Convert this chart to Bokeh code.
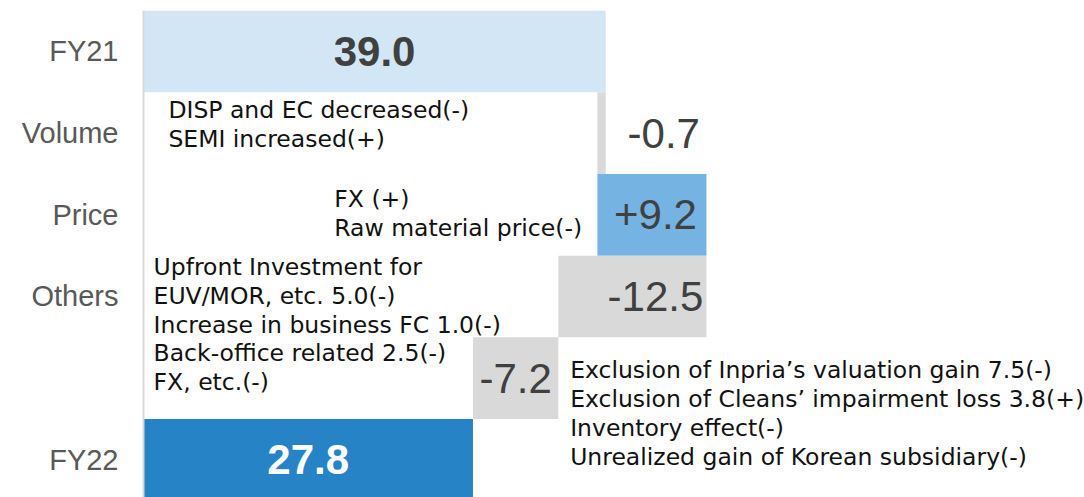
from bokeh.plotting import figure
from bokeh.models import Range1d, FixedTicker, ColumnDataSource
from bokeh.core.properties import value
from bokeh.embed import file_html
from bokeh.resources import INLINE

# ---- data ----
categories = ["FY21", "Volume", "Price", "Others", "", "FY22"]
values = [39.0, -0.7, 9.2, -12.5, -7.2, 27.8]
value_labels = ["39.0", "-0.7", "+9.2", "-12.5", "-7.2", "27.8"]
is_total = [True, False, False, False, False, True]

notes_volume = ["DISP and EC decreased(-)", "SEMI increased(+)"]
notes_price = ["FX (+)", "Raw material price(-)"]
notes_others = ["Upfront Investment for", "EUV/MOR, etc. 5.0(-)",
                "Increase in business FC 1.0(-)", "Back-office related 2.5(-)",
                "FX, etc.(-)"]
notes_extra = ["Exclusion of Inpria\u2019s valuation gain 7.5(-)",
               "Exclusion of Cleans\u2019 impairment loss 3.8(+)",
               "Inventory effect(-)",
               "Unrealized gain of Korean subsidiary(-)"]

colors = ["#D2E6F5", "#D9D9D9", "#74B3E2", "#D9D9D9", "#D9D9D9", "#2683C6"]

# ---- waterfall geometry from values ----
n = len(categories)
ypos = [n - 1 - i for i in range(n)]
lefts, rights = [], []
running = 0.0
for v, tot in zip(values, is_total):
    if tot:
        lefts.append(0.0)
        rights.append(v)
        running = v
    else:
        start = running
        running = start + v
        lefts.append(min(start, running))
        rights.append(max(start, running))

src = ColumnDataSource(dict(y=ypos, left=lefts, right=rights, color=colors))

p = figure(width=1084, height=497, output_backend="svg", toolbar_location=None,
           x_range=Range1d(0, 79.4), y_range=Range1d(-0.46, 5.5),
           min_border_left=143, min_border_right=0, min_border_top=10,
           min_border_bottom=0)
p.outline_line_color = None
p.grid.visible = False
p.xaxis.visible = False
p.background_fill_color = "white"

p.hbar(y="y", left="left", right="right", height=1.0, color="color",
       line_color=None, source=src)

# y axis
p.yaxis.ticker = FixedTicker(ticks=ypos)
p.yaxis.major_label_overrides = {y: c for y, c in zip(ypos, categories)}
p.yaxis.axis_line_color = "#D9D9D9"
p.yaxis.axis_line_width = 2
p.yaxis.major_tick_line_color = None
p.yaxis.minor_tick_line_color = None
p.yaxis.major_tick_out = 0
p.yaxis.major_label_standoff = 25
p.yaxis.major_label_text_font = "Liberation Sans"
p.yaxis.major_label_text_font_size = "29px"
p.yaxis.major_label_text_color = "#595959"

# value labels
mids = [(l + r) / 2 for l, r in zip(lefts, rights)]
label_x = list(mids)
label_x[1] = 43.9
label_x[2] = 43.2
label_x[3] = 43.2
label_colors = ["#404040", "#404040", "#404040", "#404040", "#404040", "white"]
label_styles = ["bold", "normal", "normal", "normal", "normal", "bold"]
lsrc = ColumnDataSource(dict(x=label_x, y=ypos, t=value_labels,
                             c=label_colors, s=label_styles))
p.text(x="x", y="y", text="t", text_color="c", text_font_style="s",
       text_font=value("Liberation Sans"), text_font_size="42px",
       text_align="center", text_baseline="middle", source=lsrc)

# notes
note_font = value("DejaVu Sans")
for lines, x, y in [(notes_volume, 2.1, 4.105),
                    (notes_price, 16.1, 3.015),
                    (notes_others, 0.85, 1.657),
                    (notes_extra, 36.0, 0.567)]:
    p.text(x=[x], y=[y], text=["\n".join(lines)], text_font=note_font,
           text_font_size="23.5px", text_color="#111111", text_align="left",
           text_baseline="middle", text_line_height=1.03)

open("out.html", "w").write(file_html(p, INLINE))
